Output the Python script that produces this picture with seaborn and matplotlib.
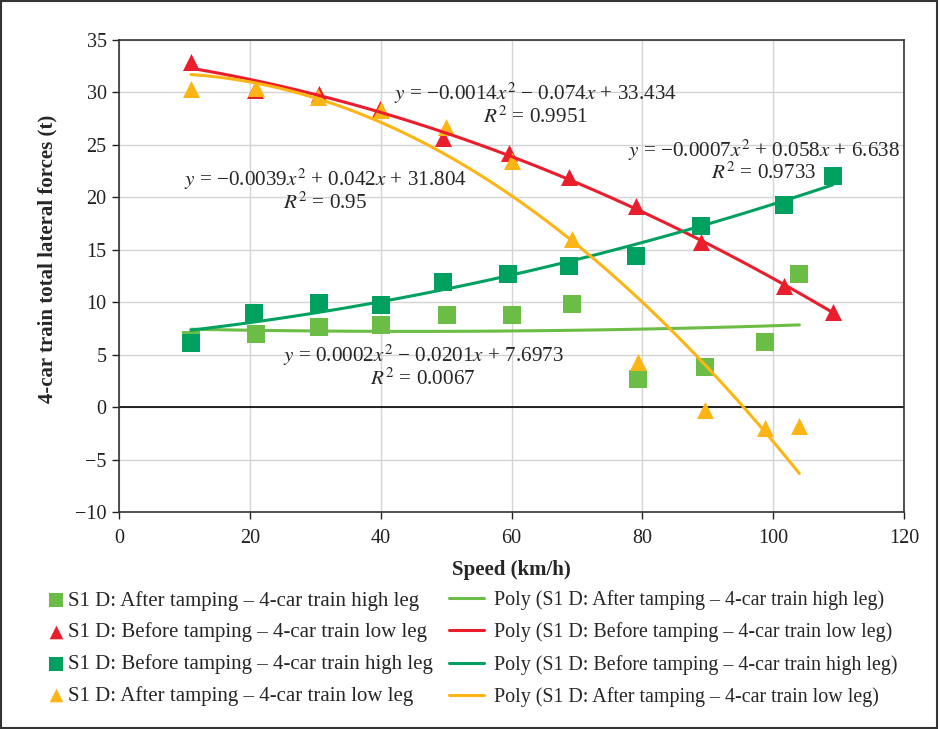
import matplotlib
matplotlib.use('Agg')
import matplotlib.pyplot as plt
import pandas as pd
import seaborn as sns
from matplotlib.patches import Rectangle

# speeds (km/h) and forces (t)
speed_after_high = [11, 21, 30.6, 40, 50.1, 60, 69.2, 79.3, 89.6, 98.7, 104]
force_after_high = [6.4, 7.0, 7.6, 7.8, 8.8, 8.8, 9.8, 2.7, 3.8, 6.2, 12.7]

speed_before_low = [11, 20.8, 30.6, 39.9, 49.5, 59.6, 68.8, 79.0, 89.0, 101.6, 109.1]
force_before_low = [32.9, 30.2, 29.9, 28.4, 25.7, 24.2, 21.9, 19.2, 15.7, 11.5, 9.1]

speed_before_high = [11, 20.6, 30.6, 40, 49.5, 59.5, 68.8, 79, 89, 101.6, 109.1]
force_before_high = [6.1, 9.0, 9.9, 9.7, 11.9, 12.7, 13.5, 14.4, 17.3, 19.3, 22.0]

speed_after_low = [11, 21, 30.4, 40, 50, 60, 69.2, 79.3, 89.6, 98.7, 104]
force_after_low = [30.3, 30.4, 29.6, 28.3, 26.7, 23.5, 16.0, 4.3, -0.3, -2.0, -1.8]

names = ['S1 D: After tamping \u2013 4-car train high leg',
         'S1 D: Before tamping \u2013 4-car train low leg',
         'S1 D: Before tamping \u2013 4-car train high leg',
         'S1 D: After tamping \u2013 4-car train low leg']
equations = ['$y$ = 0.0002$x^2$ \u2212 0.0201$x$ + 7.6973\n$R^2$ = 0.0067',
             '$y$ = \u22120.0014$x^2$ \u2212 0.074$x$ + 33.434\n$R^2$ = 0.9951',
             '$y$ = \u22120.0007$x^2$ + 0.058$x$ + 6.638\n$R^2$ = 0.9733',
             '$y$ = \u22120.0039$x^2$ + 0.042$x$ + 31.804\n$R^2$ = 0.95']
label_pos = [(46.5, 3.9), (63.6, 28.9), (98.6, 23.5), (31.5, 20.7)]

colors = ['#6cbd45', '#ea1d2c', '#00a160', '#fdb515']
markers = ['s', '^', 's', '^']

series = [
    pd.DataFrame({'speed': speed_after_high, 'force': force_after_high}),
    pd.DataFrame({'speed': speed_before_low, 'force': force_before_low}),
    pd.DataFrame({'speed': speed_before_high, 'force': force_before_high}),
    pd.DataFrame({'speed': speed_after_low, 'force': force_after_low}),
]

sns.set_style('white')
plt.rcParams['font.family'] = ['Liberation Serif', 'DejaVu Serif']
plt.rcParams['mathtext.fontset'] = 'stix'

fig = plt.figure(figsize=(9.4, 7.29), dpi=100)
ax = fig.add_axes([0.1266, 0.2977, 0.8351, 0.6474])

point_handles = []
line_handles = []
for df, name, col, mk in zip(series, names, colors, markers):
    sns.regplot(x='speed', y='force', data=df, order=2, ci=None, truncate=True,
                scatter=False, ax=ax, color=col,
                line_kws={'lw': 2.2, 'zorder': 3})
    line_handles.append(ax.lines[-1])
    sns.scatterplot(x='speed', y='force', data=df, ax=ax, color=col, marker=mk,
                    s=150, linewidth=0, zorder=2, legend=False)
    point_handles.append(ax.collections[-1])

for (tx, ty), eq in zip(label_pos, equations):
    ax.text(tx, ty, eq, ha='center', va='center', multialignment='center',
            fontsize=15.2, linespacing=1.0, zorder=5)

ax.axhline(0, color='black', lw=1.2, zorder=1)
ax.set_xlim(0, 120)
ax.set_ylim(-10, 35)
ax.set_xticks(range(0, 121, 20))
ax.set_yticks(range(-10, 36, 5))
ax.grid(True, color='#d4d4d4', lw=1)
ax.set_axisbelow(True)
for side in ['left', 'bottom', 'top', 'right']:
    ax.spines[side].set_color('#333333')
    ax.spines[side].set_linewidth(1.2)
ax.tick_params(axis='both', direction='out', length=5, width=1, labelsize=14.5,
               left=True, bottom=True, colors='#222222', pad=4)
ax.tick_params(axis='x', pad=7)
ax.set_xlabel('Speed (km/h)', fontsize=15, fontweight='bold', labelpad=9)
ax.set_ylabel('4-car train total lateral forces (t)', fontsize=15,
              fontweight='bold')
ax.yaxis.set_label_coords(-0.078, 0.536)

fig.legend(point_handles, names, loc='upper left', bbox_to_anchor=(0.042, 0.204),
           frameon=False, fontsize=15, handlelength=0.6, handletextpad=0.25,
           labelspacing=0.57, borderpad=0, markerscale=0.8)
fig.legend(line_handles, ['Poly (' + n + ')' for n in names], loc='upper left',
           bbox_to_anchor=(0.467, 0.204), frameon=False, fontsize=14.4,
           handlelength=1.75, handletextpad=0.5, labelspacing=0.62, borderpad=0)

fig.patches.append(Rectangle((0.001, 0.001), 0.996, 0.998, transform=fig.transFigure,
                             fill=False, edgecolor='#333333', lw=1.5))

fig.savefig('out.png', dpi=100)
plt.close(fig)
